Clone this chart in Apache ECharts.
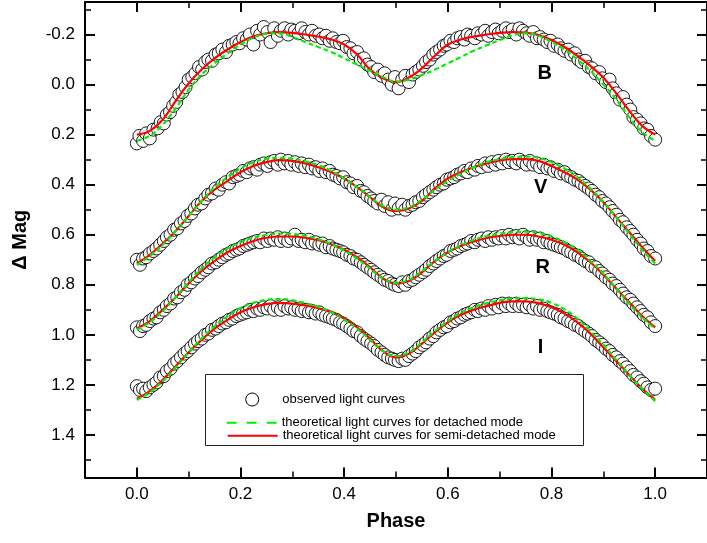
<!DOCTYPE html>
<html><head><meta charset="utf-8">
<script src="https://cdn.jsdelivr.net/npm/echarts@6/dist/echarts.min.js"></script>
<style>html,body{margin:0;padding:0;background:#fff}#c{width:707px;height:543px}</style>
</head><body><div id="c"></div>
<script>
// ---- data ----
const curvePhase = [0,0.025,0.05,0.075,0.1,0.125,0.15,0.175,0.2,0.225,0.25,0.275,0.3,0.325,0.35,0.375,0.4,0.425,0.45,0.475,0.5,0.525,0.55,0.575,0.6,0.625,0.65,0.675,0.7,0.725,0.75,0.775,0.8,0.825,0.85,0.875,0.9,0.925,0.95,0.975,1.0];

const bRed = [0.20,0.185,0.14,0.065,-0.005,-0.06,-0.105,-0.14,-0.17,-0.193,-0.205,-0.21,-0.207,-0.2,-0.192,-0.18,-0.16,-0.12,-0.06,-0.025,-0.01,-0.028,-0.065,-0.115,-0.16,-0.18,-0.192,-0.2,-0.207,-0.21,-0.208,-0.198,-0.178,-0.15,-0.115,-0.075,-0.028,0.035,0.105,0.165,0.20];
const bGreen = [0.225,0.205,0.16,0.095,0.02,-0.04,-0.085,-0.125,-0.16,-0.188,-0.203,-0.205,-0.19,-0.17,-0.15,-0.13,-0.105,-0.08,-0.055,-0.03,-0.012,-0.02,-0.038,-0.06,-0.085,-0.11,-0.135,-0.157,-0.178,-0.197,-0.205,-0.195,-0.17,-0.14,-0.1,-0.055,0.0,0.06,0.13,0.19,0.225];
const vRed = [0.715,0.68,0.635,0.585,0.525,0.465,0.42,0.385,0.35,0.325,0.31,0.302,0.305,0.315,0.33,0.35,0.375,0.41,0.45,0.49,0.505,0.495,0.465,0.415,0.375,0.35,0.33,0.315,0.303,0.298,0.298,0.305,0.325,0.35,0.38,0.42,0.47,0.53,0.59,0.65,0.705];
const vGreen = [0.72,0.685,0.64,0.585,0.525,0.465,0.41,0.37,0.335,0.31,0.297,0.293,0.297,0.307,0.322,0.345,0.375,0.41,0.45,0.485,0.5,0.49,0.46,0.42,0.385,0.355,0.33,0.31,0.298,0.29,0.288,0.293,0.31,0.335,0.37,0.415,0.47,0.53,0.595,0.66,0.715];
const rRed = [0.975,0.945,0.9,0.85,0.795,0.745,0.705,0.67,0.645,0.625,0.612,0.607,0.607,0.612,0.622,0.638,0.66,0.69,0.73,0.775,0.795,0.785,0.75,0.705,0.67,0.645,0.627,0.613,0.605,0.6,0.6,0.607,0.62,0.64,0.67,0.71,0.76,0.815,0.87,0.925,0.97];
const rGreen = [0.98,0.95,0.905,0.85,0.79,0.735,0.69,0.655,0.63,0.612,0.6,0.595,0.597,0.605,0.618,0.637,0.663,0.695,0.735,0.775,0.792,0.78,0.745,0.705,0.67,0.642,0.62,0.605,0.595,0.59,0.588,0.593,0.607,0.63,0.66,0.705,0.755,0.815,0.875,0.93,0.975];
const iRed = [1.255,1.225,1.18,1.125,1.07,1.02,0.975,0.94,0.91,0.89,0.877,0.872,0.875,0.882,0.893,0.91,0.935,0.97,1.015,1.065,1.09,1.075,1.035,0.99,0.95,0.92,0.9,0.885,0.872,0.866,0.866,0.873,0.89,0.915,0.95,0.995,1.05,1.105,1.16,1.215,1.26];
const iGreen = [1.26,1.23,1.185,1.13,1.07,1.015,0.965,0.925,0.893,0.872,0.86,0.857,0.862,0.873,0.888,0.91,0.94,0.975,1.02,1.065,1.085,1.07,1.03,0.985,0.945,0.912,0.89,0.873,0.862,0.855,0.853,0.858,0.872,0.898,0.935,0.985,1.04,1.1,1.16,1.215,1.265];

const bObs = [[0.000,0.235],[0.005,0.205],[0.012,0.225],[0.018,0.195],[0.025,0.215],[0.032,0.18],[0.04,0.175],[0.046,0.15],[0.052,0.155],[0.058,0.12],[0.064,0.11],[0.07,0.085],[0.076,0.07],[0.082,0.04],[0.088,0.03],[0.094,0.01],[0.1,-0.02],[0.107,-0.03],[0.113,-0.045],[0.12,-0.07],[0.126,-0.06],[0.132,-0.09],[0.138,-0.1],[0.145,-0.095],[0.152,-0.12],[0.158,-0.125],[0.165,-0.14],[0.172,-0.13],[0.178,-0.155],[0.185,-0.16],[0.192,-0.17],[0.198,-0.165],[0.205,-0.185],[0.212,-0.18],[0.218,-0.2],[0.225,-0.16],[0.232,-0.215],[0.238,-0.2],[0.245,-0.23],[0.252,-0.21],[0.258,-0.17],[0.265,-0.225],[0.272,-0.195],[0.278,-0.215],[0.285,-0.225],[0.292,-0.2],[0.298,-0.22],[0.305,-0.215],[0.312,-0.205],[0.318,-0.225],[0.325,-0.21],[0.332,-0.2],[0.338,-0.215],[0.345,-0.195],[0.352,-0.2],[0.358,-0.185],[0.365,-0.195],[0.372,-0.175],[0.378,-0.185],[0.385,-0.17],[0.392,-0.165],[0.398,-0.175],[0.405,-0.15],[0.412,-0.145],[0.418,-0.125],[0.425,-0.13],[0.432,-0.1],[0.438,-0.105],[0.445,-0.08],[0.452,-0.07],[0.458,-0.05],[0.465,-0.06],[0.472,-0.035],[0.478,-0.045],[0.485,-0.02],[0.492,0.0],[0.498,-0.03],[0.505,0.015],[0.512,-0.02],[0.518,-0.035],[0.525,-0.01],[0.532,-0.04],[0.538,-0.05],[0.545,-0.06],[0.552,-0.075],[0.558,-0.09],[0.565,-0.1],[0.572,-0.12],[0.578,-0.13],[0.585,-0.14],[0.592,-0.155],[0.598,-0.16],[0.605,-0.175],[0.612,-0.17],[0.618,-0.185],[0.625,-0.19],[0.632,-0.18],[0.638,-0.2],[0.645,-0.195],[0.652,-0.185],[0.658,-0.205],[0.665,-0.2],[0.672,-0.215],[0.678,-0.195],[0.685,-0.21],[0.692,-0.22],[0.698,-0.205],[0.705,-0.215],[0.712,-0.225],[0.718,-0.21],[0.725,-0.22],[0.732,-0.2],[0.738,-0.225],[0.745,-0.215],[0.752,-0.205],[0.758,-0.195],[0.765,-0.21],[0.772,-0.185],[0.778,-0.19],[0.785,-0.18],[0.792,-0.17],[0.798,-0.175],[0.805,-0.155],[0.812,-0.16],[0.818,-0.145],[0.825,-0.135],[0.832,-0.14],[0.838,-0.12],[0.845,-0.125],[0.852,-0.1],[0.858,-0.09],[0.865,-0.095],[0.872,-0.07],[0.878,-0.065],[0.885,-0.045],[0.892,-0.05],[0.898,-0.025],[0.905,-0.01],[0.912,-0.02],[0.918,0.015],[0.925,0.035],[0.932,0.06],[0.938,0.05],[0.945,0.08],[0.952,0.1],[0.958,0.13],[0.965,0.14],[0.972,0.155],[0.978,0.175],[0.985,0.18],[0.992,0.205],[1.0,0.22]];

const vObs = [[0,0.70],[0.006,0.72],[0.012,0.695],[0.018,0.69],[0.025,0.675],[0.032,0.665],[0.038,0.655],[0.045,0.64],[0.052,0.625],[0.058,0.61],[0.065,0.6],[0.072,0.58],[0.078,0.575],[0.085,0.555],[0.092,0.545],[0.098,0.525],[0.105,0.515],[0.112,0.495],[0.118,0.48],[0.125,0.475],[0.132,0.455],[0.138,0.44],[0.145,0.435],[0.152,0.415],[0.158,0.42],[0.165,0.4],[0.172,0.39],[0.178,0.395],[0.185,0.37],[0.192,0.365],[0.198,0.36],[0.205,0.345],[0.212,0.35],[0.218,0.335],[0.225,0.33],[0.232,0.34],[0.238,0.32],[0.245,0.315],[0.252,0.325],[0.258,0.31],[0.265,0.305],[0.272,0.32],[0.278,0.3],[0.285,0.315],[0.292,0.305],[0.298,0.32],[0.305,0.31],[0.312,0.325],[0.318,0.315],[0.325,0.33],[0.332,0.32],[0.338,0.335],[0.345,0.33],[0.352,0.345],[0.358,0.335],[0.365,0.35],[0.372,0.345],[0.378,0.36],[0.385,0.365],[0.392,0.375],[0.398,0.37],[0.405,0.39],[0.412,0.395],[0.418,0.41],[0.425,0.405],[0.432,0.425],[0.438,0.43],[0.445,0.445],[0.452,0.455],[0.458,0.465],[0.465,0.475],[0.472,0.46],[0.478,0.485],[0.485,0.47],[0.492,0.5],[0.498,0.475],[0.505,0.495],[0.512,0.48],[0.518,0.5],[0.525,0.485],[0.532,0.48],[0.538,0.47],[0.545,0.465],[0.552,0.45],[0.558,0.44],[0.565,0.43],[0.572,0.42],[0.578,0.41],[0.585,0.4],[0.592,0.395],[0.598,0.38],[0.605,0.375],[0.612,0.37],[0.618,0.36],[0.625,0.355],[0.632,0.345],[0.638,0.35],[0.645,0.335],[0.652,0.34],[0.658,0.325],[0.665,0.33],[0.672,0.315],[0.678,0.325],[0.685,0.31],[0.692,0.32],[0.698,0.305],[0.705,0.315],[0.712,0.3],[0.718,0.31],[0.725,0.305],[0.732,0.315],[0.738,0.3],[0.745,0.31],[0.752,0.32],[0.758,0.305],[0.765,0.32],[0.772,0.315],[0.778,0.33],[0.785,0.32],[0.792,0.335],[0.798,0.33],[0.805,0.345],[0.812,0.34],[0.818,0.355],[0.825,0.35],[0.832,0.365],[0.838,0.37],[0.845,0.38],[0.852,0.385],[0.858,0.395],[0.865,0.405],[0.872,0.415],[0.878,0.425],[0.885,0.44],[0.892,0.45],[0.898,0.465],[0.905,0.475],[0.912,0.49],[0.918,0.505],[0.925,0.52],[0.932,0.54],[0.938,0.55],[0.945,0.57],[0.952,0.585],[0.958,0.6],[0.965,0.62],[0.972,0.635],[0.978,0.655],[0.985,0.665],[0.992,0.685],[1.0,0.695]];

const rObs = [[0,0.97],[0.006,0.985],[0.012,0.965],[0.018,0.96],[0.025,0.945],[0.032,0.935],[0.038,0.93],[0.045,0.91],[0.052,0.9],[0.058,0.885],[0.065,0.875],[0.072,0.855],[0.078,0.85],[0.085,0.83],[0.092,0.82],[0.098,0.8],[0.105,0.79],[0.112,0.775],[0.118,0.765],[0.125,0.75],[0.132,0.74],[0.138,0.73],[0.145,0.715],[0.152,0.71],[0.158,0.7],[0.165,0.69],[0.172,0.68],[0.178,0.675],[0.185,0.665],[0.192,0.66],[0.198,0.655],[0.205,0.645],[0.212,0.64],[0.218,0.635],[0.225,0.63],[0.232,0.625],[0.238,0.63],[0.245,0.615],[0.252,0.625],[0.258,0.615],[0.265,0.62],[0.272,0.61],[0.278,0.625],[0.285,0.615],[0.292,0.625],[0.298,0.615],[0.305,0.6],[0.312,0.625],[0.318,0.62],[0.325,0.63],[0.332,0.62],[0.338,0.635],[0.345,0.63],[0.352,0.64],[0.358,0.635],[0.365,0.65],[0.372,0.645],[0.378,0.655],[0.385,0.66],[0.392,0.665],[0.398,0.67],[0.405,0.68],[0.412,0.685],[0.418,0.695],[0.425,0.7],[0.432,0.71],[0.438,0.72],[0.445,0.73],[0.452,0.74],[0.458,0.75],[0.465,0.76],[0.472,0.77],[0.478,0.78],[0.485,0.785],[0.492,0.795],[0.498,0.8],[0.505,0.805],[0.512,0.79],[0.518,0.8],[0.525,0.785],[0.532,0.78],[0.538,0.77],[0.545,0.76],[0.552,0.75],[0.558,0.74],[0.565,0.725],[0.572,0.715],[0.578,0.705],[0.585,0.695],[0.592,0.685],[0.598,0.68],[0.605,0.665],[0.612,0.66],[0.618,0.655],[0.625,0.645],[0.632,0.64],[0.638,0.635],[0.645,0.625],[0.652,0.63],[0.658,0.62],[0.665,0.615],[0.672,0.625],[0.678,0.61],[0.685,0.62],[0.692,0.61],[0.698,0.615],[0.705,0.605],[0.712,0.615],[0.718,0.6],[0.725,0.61],[0.732,0.605],[0.738,0.615],[0.745,0.6],[0.752,0.61],[0.758,0.62],[0.765,0.61],[0.772,0.62],[0.778,0.615],[0.785,0.63],[0.792,0.625],[0.798,0.635],[0.805,0.64],[0.812,0.645],[0.818,0.65],[0.825,0.655],[0.832,0.665],[0.838,0.67],[0.845,0.68],[0.852,0.685],[0.858,0.695],[0.865,0.705],[0.872,0.71],[0.878,0.725],[0.885,0.73],[0.892,0.745],[0.898,0.755],[0.905,0.77],[0.912,0.78],[0.918,0.795],[0.925,0.805],[0.932,0.82],[0.938,0.835],[0.945,0.85],[0.952,0.86],[0.958,0.875],[0.965,0.89],[0.972,0.905],[0.978,0.92],[0.985,0.93],[0.992,0.95],[1.0,0.965]];

const iObs = [[0,1.205],[0.006,1.22],[0.012,1.215],[0.018,1.225],[0.025,1.21],[0.032,1.2],[0.038,1.19],[0.045,1.17],[0.052,1.165],[0.058,1.145],[0.065,1.135],[0.072,1.115],[0.078,1.105],[0.085,1.09],[0.092,1.075],[0.098,1.065],[0.105,1.05],[0.112,1.035],[0.118,1.025],[0.125,1.015],[0.132,1.0],[0.138,0.995],[0.145,0.98],[0.152,0.975],[0.158,0.965],[0.165,0.955],[0.172,0.95],[0.178,0.94],[0.185,0.935],[0.192,0.925],[0.198,0.92],[0.205,0.915],[0.212,0.91],[0.218,0.9],[0.225,0.905],[0.232,0.895],[0.238,0.9],[0.245,0.89],[0.252,0.895],[0.258,0.885],[0.265,0.9],[0.272,0.89],[0.278,0.9],[0.285,0.885],[0.292,0.895],[0.298,0.89],[0.305,0.9],[0.312,0.895],[0.318,0.905],[0.325,0.9],[0.332,0.91],[0.338,0.905],[0.345,0.915],[0.352,0.91],[0.358,0.92],[0.365,0.925],[0.372,0.93],[0.378,0.935],[0.385,0.94],[0.392,0.95],[0.398,0.955],[0.405,0.965],[0.412,0.975],[0.418,0.985],[0.425,0.99],[0.432,1.005],[0.438,1.015],[0.445,1.025],[0.452,1.035],[0.458,1.045],[0.465,1.06],[0.472,1.07],[0.478,1.08],[0.485,1.09],[0.492,1.095],[0.498,1.1],[0.505,1.105],[0.512,1.095],[0.518,1.1],[0.525,1.085],[0.532,1.075],[0.538,1.065],[0.545,1.05],[0.552,1.04],[0.558,1.03],[0.565,1.015],[0.572,1.005],[0.578,0.99],[0.585,0.98],[0.592,0.97],[0.598,0.965],[0.605,0.95],[0.612,0.945],[0.618,0.935],[0.625,0.93],[0.632,0.92],[0.638,0.915],[0.645,0.91],[0.652,0.9],[0.658,0.905],[0.665,0.895],[0.672,0.9],[0.678,0.885],[0.685,0.895],[0.692,0.88],[0.698,0.89],[0.705,0.875],[0.712,0.885],[0.718,0.875],[0.725,0.885],[0.732,0.875],[0.738,0.885],[0.745,0.88],[0.752,0.89],[0.758,0.88],[0.765,0.895],[0.772,0.885],[0.778,0.9],[0.785,0.895],[0.792,0.905],[0.798,0.91],[0.805,0.915],[0.812,0.92],[0.818,0.93],[0.825,0.935],[0.832,0.945],[0.838,0.95],[0.845,0.96],[0.852,0.965],[0.858,0.975],[0.865,0.985],[0.872,0.995],[0.878,1.005],[0.885,1.02],[0.892,1.03],[0.898,1.04],[0.905,1.055],[0.912,1.065],[0.918,1.08],[0.925,1.09],[0.932,1.105],[0.938,1.115],[0.945,1.13],[0.952,1.145],[0.958,1.16],[0.965,1.17],[0.972,1.185],[0.978,1.195],[0.985,1.21],[0.992,1.22],[1.0,1.215]];

const bandNames = ['B','V','R','I'];
const bandLabelPhase = [0.787,0.779,0.783,0.779];
const bandLabelMag = [-0.046,0.413,0.729,1.049];

const xMajorTicks = [0,0.2,0.4,0.6,0.8,1.0];
const xMinorTicks = [0.1,0.3,0.5,0.7,0.9];
const yMajorTicks = [-0.2,0,0.2,0.4,0.6,0.8,1.0,1.2,1.4];
const yMinorTicks = [-0.3,-0.1,0.1,0.3,0.5,0.7,0.9,1.1,1.3,1.5];

const OBS = 'observed light curves';
const DET = 'theoretical light curves for detached mode';
const SEMI = 'theoretical light curves for semi-detached mode';

// ---- chart ----
const FONT = "'Liberation Sans', Arial, Helvetica, sans-serif";
const GREEN = '#00ee00', RED = '#ff0000';
const zip = (xs, ys) => xs.map((x, i) => [x, ys[i]]);

function mkAxis(type, pos, kind, extra) {
  const isX = type === 'x';
  const ax = {
    type: 'value', position: pos,
    min: isX ? -0.1 : -0.33, max: isX ? 1.1 : 1.57,
    inverse: !isX,
    splitLine: {show: false},
    axisLine: {show: kind === 'major', onZero: false, lineStyle: {color: '#000', width: 2}},
    axisTick: {show: true, inside: true, length: kind === 'major' ? 10 : 6,
      customValues: kind === 'major' ? (isX ? xMajorTicks : yMajorTicks) : (isX ? xMinorTicks : yMinorTicks),
      lineStyle: {color: '#000', width: kind === 'major' ? 2 : 1.5}},
    axisLabel: {show: false}
  };
  return Object.assign(ax, extra || {});
}

const labelStyle = (vals, margin) => ({show: true, customValues: vals, formatter: v => v.toFixed(1),
  margin: margin, fontSize: 17, color: '#000', fontFamily: FONT});
const nameStyle = {fontSize: 20, fontWeight: 'bold', color: '#000', fontFamily: FONT};

const series = [];
const obsSets = [bObs, vObs, rObs, iObs];
const redSets = [bRed, vRed, rRed, iRed];
const greenSets = [bGreen, vGreen, rGreen, iGreen];
obsSets.forEach(d => series.push({
  type: 'scatter', name: OBS, data: d, symbol: 'circle', symbolSize: 13,
  itemStyle: {color: '#fff', borderColor: '#000', borderWidth: 0.9, opacity: 1}, z: 2
}));
redSets.forEach(d => series.push({
  type: 'line', name: SEMI, data: zip(curvePhase, d), symbol: 'none', smooth: 0.4,
  lineStyle: {color: RED, width: 2.2}, itemStyle: {color: RED}, z: 3
}));
greenSets.forEach(d => series.push({
  type: 'line', name: DET, data: zip(curvePhase, d), symbol: 'none', smooth: 0.4,
  lineStyle: {color: GREEN, width: 2.2, type: [5, 3]}, itemStyle: {color: GREEN}, z: 4
}));

// legend icon for the dashed line: three 10px dashes spread over the 50x13 item box
const dashedIcon = 'path://M0,0L0.01,0L0,0.01Z M0,5.5h10v2h-10Z M20,5.5h10v2h-10Z M40,5.5h10v2h-10Z M50,13L49.99,13L50,12.99Z';
const hiddenSymbol = {color: 'rgba(0,0,0,0)', borderWidth: 0, opacity: 0};
const legendText = {fontSize: 13, lineHeight: 13, color: '#000', fontFamily: FONT};
const chart = echarts.init(document.getElementById('c'), null, {renderer: 'canvas'});
chart.setOption({
  backgroundColor: '#fff',
  animation: false,
  grid: {left: 85, top: 2, width: 624, height: 475.5, containLabel: false},
  xAxis: [
    mkAxis('x', 'bottom', 'major', {axisLabel: labelStyle(xMajorTicks, 8), name: 'Phase', nameLocation: 'middle', nameGap: 34, nameTextStyle: nameStyle}),
    mkAxis('x', 'bottom', 'minor'),
    mkAxis('x', 'top', 'major'),
    mkAxis('x', 'top', 'minor')
  ],
  yAxis: [
    mkAxis('y', 'left', 'major', {axisLabel: labelStyle(yMajorTicks, 10), name: 'Δ Mag', nameLocation: 'middle', nameGap: 55, nameTextStyle: nameStyle}),
    mkAxis('y', 'left', 'minor'),
    mkAxis('y', 'right', 'major'),
    mkAxis('y', 'right', 'minor')
  ],
  legend: [
    {data: [{name: OBS, icon: 'circle', itemStyle: {color: '#fff', borderColor: '#000', borderWidth: 1}}],
     left: 245.2, top: 392.5, itemWidth: 50, itemHeight: 13, padding: 0, selectedMode: false, textStyle: legendText},
    {data: [{name: DET, icon: dashedIcon, itemStyle: {color: GREEN, borderWidth: 0}}],
     left: 226.7, top: 416.2, itemWidth: 50, itemHeight: 13, padding: 0, selectedMode: false, textStyle: legendText},
    {data: [{name: SEMI}], left: 226.7, top: 429.2, itemWidth: 50, itemHeight: 13, padding: 0, selectedMode: false,
     itemStyle: hiddenSymbol, lineStyle: {type: 'solid', width: 2, color: RED, opacity: 1}, textStyle: legendText}
  ],
  series: series
});

// box around the legend, and band letters placed through the axes' scales
const bandText = bandNames.map((n, i) => {
  const p = chart.convertToPixel({xAxisIndex: 0, yAxisIndex: 0}, [bandLabelPhase[i], bandLabelMag[i]]);
  return {type: 'text', x: p[0], y: p[1], silent: true, z: 10,
    style: {text: n, fill: '#000', font: 'bold 20px ' + FONT, align: 'center', verticalAlign: 'middle'}};
});
chart.setOption({graphic: [
  {type: 'rect', left: 203, top: 372, shape: {width: 378, height: 71},
   style: {fill: 'none', stroke: '#222', lineWidth: 1}, z: 1}
].concat(bandText)});
</script></body></html>
